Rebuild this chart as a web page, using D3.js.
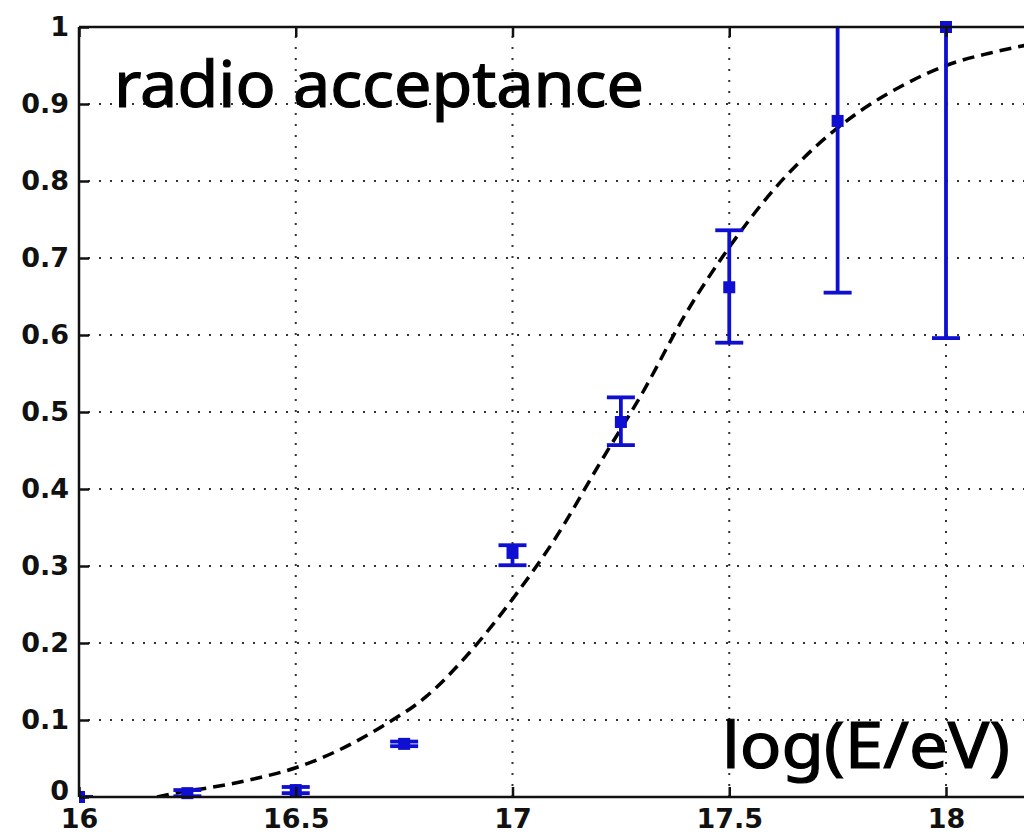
<!DOCTYPE html>
<html>
<head>
<meta charset="utf-8">
<script src="https://cdn.jsdelivr.net/npm/d3@7"></script>
<style>
  html, body { margin: 0; padding: 0; background: #fff; }
  svg { display: block; }
</style>
</head>
<body>
<svg id="chart" width="1024" height="835"></svg>
<script>
// Measured acceptance per energy bin (log10 of E/eV)
const binEnergy = [16.0, 16.25, 16.5, 16.75, 17.0, 17.25, 17.5, 17.75, 18.0];
const acceptance = [0.0, 0.005, 0.009, 0.069, 0.317, 0.487, 0.662, 0.878, 1.0];
const errLow = [0.0, 0.004, 0.004, 0.003, 0.016, 0.030, 0.072, 0.223, 0.404];
const errHigh = [0.0, 0.004, 0.004, 0.003, 0.010, 0.032, 0.074, 0.223, 0.404];

// Fitted acceptance curve
const fitEnergy = [16.18, 16.25, 16.3, 16.4, 16.5, 16.6, 16.7, 16.8, 16.9, 17.0, 17.1, 17.2,
                   17.3, 17.4, 17.5, 17.6, 17.7, 17.8, 17.9, 18.0, 18.1, 18.2];
const fitAcceptance = [0.0, 0.008, 0.012, 0.023, 0.038, 0.061, 0.092, 0.130, 0.187, 0.257, 0.337, 0.432,
                       0.525, 0.628, 0.714, 0.787, 0.845, 0.890, 0.924, 0.950, 0.966, 0.978];

const xTicks = [16, 16.5, 17, 17.5, 18];
const xTickLabels = ["16", "16.5", "17", "17.5", "18"];
const yTicks = [0, 0.1, 0.2, 0.3, 0.4, 0.5, 0.6, 0.7, 0.8, 0.9, 1];
const yTickLabels = ["0", "0.1", "0.2", "0.3", "0.4", "0.5", "0.6", "0.7", "0.8", "0.9", "1"];

(function draw() {
  const W = 1024, H = 835;
  const plotLeft = 79, plotTop = 27, plotBottom = 797;
  const pxPerUnit = 433.5;

  const svg = d3.select("#chart");
  const x = d3.scaleLinear().domain([16, 18.5]).range([plotLeft, plotLeft + 2.5 * pxPerUnit]);
  const y = d3.scaleLinear().domain([0, 1]).range([plotBottom, plotTop]);

  const defs = svg.append("defs");
  defs.append("clipPath").attr("id", "plotClip")
    .append("rect").attr("x", plotLeft).attr("y", plotTop)
    .attr("width", W - plotLeft).attr("height", plotBottom - plotTop);
  defs.append("clipPath").attr("id", "markClip")
    .append("rect").attr("x", plotLeft).attr("y", 0).attr("width", W - plotLeft).attr("height", H);

  // Dotted grid
  const grid = svg.append("g").attr("stroke", "#333").attr("stroke-width", 2)
    .attr("stroke-dasharray", "2,9");
  grid.selectAll("line.h").data(yTicks.filter(v => v > 0 && v < 1)).join("line")
    .attr("class", "h")
    .attr("x1", plotLeft + 9).attr("x2", W)
    .attr("y1", d => y(d)).attr("y2", d => y(d));
  grid.selectAll("line.v").data(xTicks.filter(v => v > 16)).join("line")
    .attr("class", "v")
    .attr("x1", d => x(d)).attr("x2", d => x(d))
    .attr("y1", plotTop + 9).attr("y2", plotBottom);

  // Titles
  const comic = "'Comic Sans MS', 'Noto Sans', 'DejaVu Sans', sans-serif";
  svg.append("text")
    .attr("x", 114).attr("y", 107)
    .attr("font-family", comic).attr("font-size", 64)
    .attr("textLength", 530).attr("lengthAdjust", "spacingAndGlyphs")
    .attr("fill", "#000").attr("stroke", "#000").attr("stroke-width", 1.2)
    .text("radio acceptance");
  svg.append("text")
    .attr("x", 722).attr("y", 768)
    .attr("font-family", comic).attr("font-size", 64)
    .attr("textLength", 288).attr("lengthAdjust", "spacingAndGlyphs")
    .attr("fill", "#000").attr("stroke", "#000").attr("stroke-width", 1.2)
    .text("log(E/eV)");

  // Fit curve
  const line = d3.line().curve(d3.curveMonotoneX)
    .x((d, i) => x(fitEnergy[i])).y(d => y(d));
  svg.append("path")
    .attr("clip-path", "url(#plotClip)")
    .attr("d", line(fitAcceptance))
    .attr("fill", "none").attr("stroke", "#000")
    .attr("stroke-width", 3.5).attr("stroke-dasharray", "12,7");

  // Error bars
  const blue = "#0f0fd2";
  const pts = binEnergy.map((e, i) => ({
    e, v: acceptance[i], lo: acceptance[i] - errLow[i], hi: acceptance[i] + errHigh[i]
  }));
  const eb = svg.append("g").attr("clip-path", "url(#plotClip)")
    .attr("stroke", blue).attr("stroke-width", 3.8);
  eb.selectAll("line.stem").data(pts).join("line").attr("class", "stem")
    .attr("x1", d => x(d.e)).attr("x2", d => x(d.e))
    .attr("y1", d => y(d.lo)).attr("y2", d => y(d.hi));
  eb.selectAll("line.capLo").data(pts).join("line").attr("class", "capLo")
    .attr("x1", d => x(d.e) - 14).attr("x2", d => x(d.e) + 14)
    .attr("y1", d => y(d.lo)).attr("y2", d => y(d.lo));
  eb.selectAll("line.capHi").data(pts).join("line").attr("class", "capHi")
    .attr("x1", d => x(d.e) - 14).attr("x2", d => x(d.e) + 14)
    .attr("y1", d => y(d.hi)).attr("y2", d => y(d.hi));

  // Markers
  svg.append("g").attr("clip-path", "url(#markClip)")
    .selectAll("rect").data(pts).join("rect")
    .attr("x", d => x(d.e) - 6).attr("y", d => y(d.v) - 6)
    .attr("width", 12).attr("height", 12)
    .attr("fill", blue);

  // Axes
  const fontAx = "'DejaVu Sans', sans-serif";
  const xAxis = svg.append("g").attr("transform", `translate(0,${plotBottom})`)
    .call(d3.axisBottom(x).tickValues(xTicks).tickFormat((d, i) => xTickLabels[i])
      .tickSizeInner(-10).tickSizeOuter(0).tickPadding(12));
  const yAxis = svg.append("g").attr("transform", `translate(${plotLeft},0)`)
    .call(d3.axisLeft(y).tickValues(yTicks).tickFormat((d, i) => yTickLabels[i])
      .tickSizeInner(-10).tickSizeOuter(0).tickPadding(10));
  const topAxis = svg.append("g").attr("transform", `translate(0,${plotTop})`)
    .call(d3.axisTop(x).tickValues(xTicks).tickFormat("")
      .tickSizeInner(-10).tickSizeOuter(0));

  [xAxis, yAxis, topAxis].forEach(g => {
    g.select(".domain").attr("stroke", "#111").attr("stroke-width", 2.5);
    g.selectAll(".tick line").attr("stroke", "#111").attr("stroke-width", 2.5);
    g.selectAll(".tick text").attr("fill", "#111")
      .attr("font-family", fontAx).attr("font-weight", "bold").attr("font-size", 27);
  });
  // the zero label sits a little above the bottom axis
  yAxis.selectAll(".tick text").filter(d => d === 0).attr("y", -6);
  // horizontal axis lines run to the right edge
  xAxis.select(".domain").attr("d", `M${plotLeft},0H${W}`);
  topAxis.select(".domain").attr("d", `M${plotLeft},0H${W}`);
  yAxis.select(".domain").attr("d", `M0,${plotTop}V${plotBottom}`);
})();
</script>
</body>
</html>
